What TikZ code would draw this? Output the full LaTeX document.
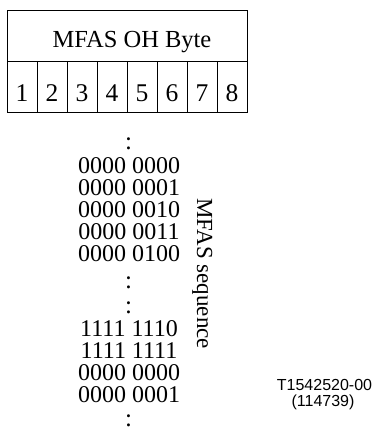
\documentclass[tikz,border=0pt]{standalone}
\usepackage{fontspec}
\setmainfont{Liberation Serif}
\newfontfamily\arialf{Liberation Sans}
\begin{document}
\begin{tikzpicture}[x=1pt,y=-1pt,
  txt/.style={inner sep=0pt,anchor=base},
  seqline/.style={txt,font=\fontsize{24}{24}\selectfont},
  colon/.style={txt,font=\fontsize{25}{25}\selectfont},
  cell/.style={txt,font=\fontsize{25.5}{25.5}\selectfont},
  tbl/.style={line width=1pt}]
\useasboundingbox (0,0) rectangle (374,431);
% table
\draw[tbl] (7,10) rectangle (247,112);
\draw[tbl] (7,61) -- (247,61);
\foreach \i in {1,...,7}{\draw[tbl] (7+30*\i,61) -- (7+30*\i,112);}
\node[txt,font=\fontsize{24.5}{24.5}\selectfont] (title) at (132,47) {MFAS OH Byte};
\foreach \i in {1,...,8}{\node[cell] (c\i) at (-8+30*\i,101) {\i};}
% sequence
\node[colon] (k1) at (128.5,149) {:};
\node[seqline] (s1) at (129,173) {0000 0000};
\node[seqline] (s2) at (129,195) {0000 0001};
\node[seqline] (s3) at (129,217) {0000 0010};
\node[seqline] (s4) at (129,239.5) {0000 0011};
\node[seqline] (s5) at (129,261.7) {0000 0100};
\node[colon] (k2) at (128.5,288) {:};
\node[colon] (k3) at (128.5,313) {:};
\node[seqline] (s6) at (129,336.6) {1111 1110};
\node[seqline] (s7) at (129,358.4) {1111 1111};
\node[seqline] (s8) at (129,380.2) {0000 0000};
\node[seqline] (s9) at (129,402) {0000 0001};
\node[colon] (k4) at (128.5,426) {:};
% rotated label
\node[txt,rotate=-90,font=\fontsize{23}{23}\selectfont] (lab) at (197,273.5) {MFAS sequence};
% figure id
\node[txt,font=\arialf\fontsize{16}{16}\selectfont] (id1) at (324.5,390.7) {T1542520-00};
\node[txt,font=\arialf\fontsize{16}{16}\selectfont] (id2) at (323,406.7) {(114739)};
\end{tikzpicture}
\end{document}
